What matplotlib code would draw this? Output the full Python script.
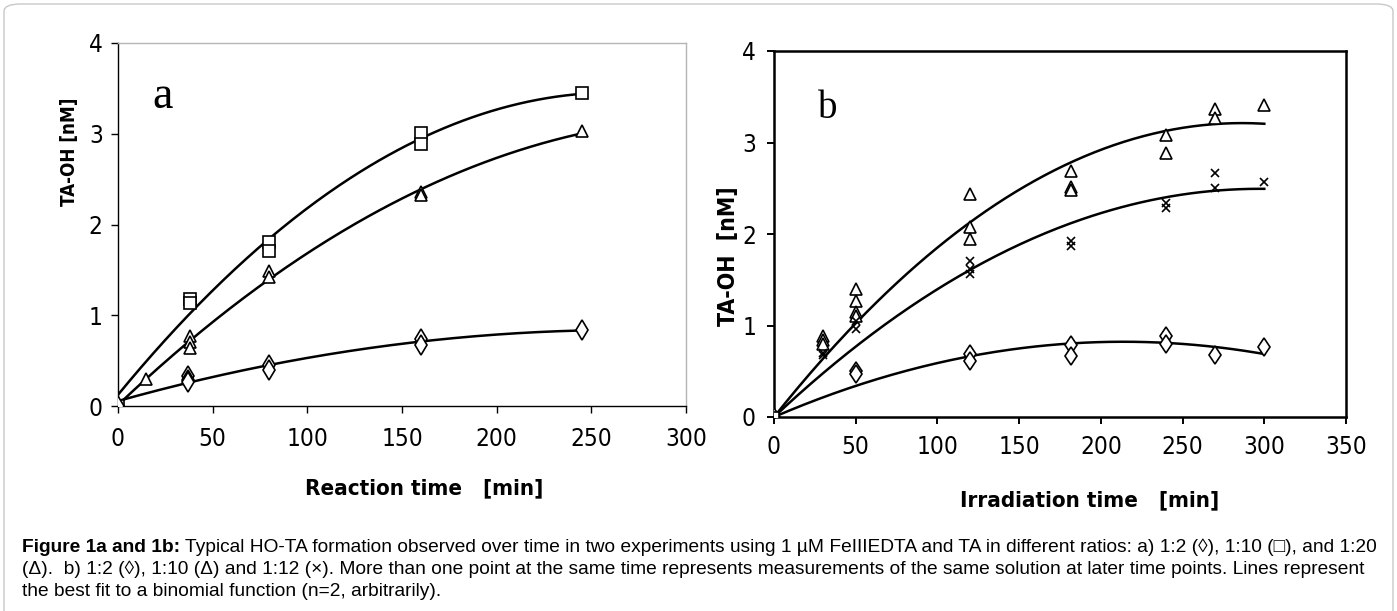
import numpy as np
import matplotlib
matplotlib.use("Agg")
import matplotlib.pyplot as plt
from matplotlib import font_manager
from matplotlib.patches import FancyBboxPatch, Rectangle

# ---- panel a: reaction time [min] vs TA-OH [nM]
a_sq_x = [0, 38, 38, 80, 80, 160, 160, 245]
a_sq_y = [0, 1.18, 1.14, 1.81, 1.71, 3.01, 2.89, 3.45]
a_tri_x = [0, 15, 38, 38, 38, 80, 80, 160, 160, 245]
a_tri_y = [0, 0.30, 0.77, 0.71, 0.64, 1.49, 1.42, 2.36, 2.33, 3.03]
a_dia_x = [0, 37, 37, 37, 80, 80, 160, 160, 245]
a_dia_y = [0, 0.33, 0.29, 0.26, 0.45, 0.40, 0.74, 0.67, 0.84]

# ---- panel b: irradiation time [min] vs TA-OH [nM]
b_tri_x = [0, 30, 30, 30, 50, 50, 50, 50, 120, 120, 120, 182, 182, 182, 240, 240, 270, 270, 300]
b_tri_y = [0, 0.88, 0.84, 0.80, 1.40, 1.27, 1.15, 1.10, 2.44, 2.08, 1.94, 2.69, 2.51, 2.48, 3.08, 2.88, 3.37, 3.27, 3.41]
b_x_x = [0, 30, 30, 50, 50, 120, 120, 120, 182, 182, 240, 240, 270, 270, 300]
b_x_y = [0, 0.70, 0.68, 1.05, 0.96, 1.70, 1.62, 1.56, 1.92, 1.87, 2.34, 2.28, 2.67, 2.50, 2.57]
b_dia_x = [0, 50, 50, 120, 120, 182, 182, 240, 240, 270, 300]
b_dia_y = [0, 0.50, 0.47, 0.69, 0.61, 0.79, 0.67, 0.88, 0.80, 0.68, 0.77]

caption_lines = [
    [("Figure 1a and 1b:", "bold"),
     (" Typical HO-TA formation observed over time in two experiments using 1 \u00b5M FeIIIEDTA and TA in different ratios: a) 1:2 (\u25ca), 1:10 (\u25a1), and 1:20", "normal")],
    [("(\u0394).  b) 1:2 (\u25ca), 1:10 (\u0394) and 1:12 (\u00d7). More than one point at the same time represents measurements of the same solution at later time points. Lines represent", "normal")],
    [("the best fit to a binomial function (n=2, arbitrarily).", "normal")],
]

W, H = 1397, 611

# pick a condensed sans if one is installed (the chart text is narrow)
entries = font_manager.fontManager.ttflist
names = {f.name for f in entries}
narrow, stretch = "Liberation Sans", "normal"
if "Liberation Sans Narrow" in names:
    narrow, stretch = "Liberation Sans Narrow", "normal"
else:
    for fam in ["DejaVu Sans", "Noto Sans", "Open Sans", "Roboto"]:
        if any(f.name == fam and "condensed" in str(f.stretch) for f in entries):
            narrow, stretch = fam, "condensed"
            break
    else:
        for f in entries:
            if "Condensed" in f.name or "Narrow" in f.name:
                narrow = f.name
                break
plt.rcParams["font.family"] = [narrow, "DejaVu Sans"]
plt.rcParams["font.stretch"] = stretch


def fx(px):
    return px / W


def fy(py):
    return 1 - py / H


def fit2(x, y, through_origin=False):
    x = np.asarray(x, float)
    y = np.asarray(y, float)
    xs = np.linspace(0, x.max(), 200)
    if through_origin:
        A = np.column_stack([x, x ** 2])
        c, *_ = np.linalg.lstsq(A, y, rcond=None)
        return xs, c[0] * xs + c[1] * xs ** 2
    c = np.polyfit(x, y, 2)
    return xs, np.polyval(c, xs)


fig = plt.figure(figsize=(W / 100, H / 100), dpi=100)

# outer rounded frame (bottom edge runs off the picture)
fig.add_artist(FancyBboxPatch((fx(4), fy(640)), fx(W - 8), fy(4) - fy(640),
                              boxstyle="round,pad=0,rounding_size=0.012", transform=fig.transFigure,
                              fc="none", ec="#c8c8c8", lw=1.0))

mk = dict(ls="none", mfc="white", mec="black", mew=1.2)

# ---------------- panel a
ax1 = fig.add_axes([fx(118), fy(406), fx(686 - 118), fy(43) - fy(406)])
for xs, ys, m, ms in [(a_sq_x, a_sq_y, "s", 8), (a_tri_x, a_tri_y, "^", 8), (a_dia_x, a_dia_y, "d", 10)]:
    lx, ly = fit2(xs, ys)
    ax1.plot(lx, ly, color="black", lw=1.8, zorder=2)
    ax1.plot(xs, ys, marker=m, ms=ms, zorder=3, **mk)
ax1.set_xlim(0, 300)
ax1.set_ylim(0, 4)
ax1.set_xticks(range(0, 301, 50))
ax1.set_yticks(range(0, 5))
for s in ["top", "right"]:
    ax1.spines[s].set_color("#b4b4b4")
    ax1.spines[s].set_linewidth(1.0)
for s in ["left", "bottom"]:
    ax1.spines[s].set_color("black")
    ax1.spines[s].set_linewidth(1.0)
ax1.tick_params(direction="out", length=5, width=1, labelsize=17.5)
ax1.tick_params(axis="x", pad=10)
ax1.tick_params(axis="y", pad=6)
ax1.text((163 - 118) / (686 - 118), (406 - 97) / (406 - 43), "a", transform=ax1.transAxes,
         family="Liberation Serif", fontsize=33, ha="center", va="center")

# ---------------- panel b
ax2 = fig.add_axes([fx(774), fy(417), fx(1346 - 774), fy(51) - fy(417)])
for xs, ys, m, ms in [(b_tri_x, b_tri_y, "^", 8), (b_x_x, b_x_y, "x", 5.5), (b_dia_x, b_dia_y, "d", 9.5)]:
    lx, ly = fit2(xs, ys, through_origin=True)
    ax2.plot(lx, ly, color="black", lw=1.8, zorder=2)
    ax2.plot(xs, ys, marker=m, ms=ms, zorder=3, **mk)
ax2.plot([0], [0], marker="s", ms=7, zorder=3, **mk)
ax2.set_xlim(0, 350)
ax2.set_ylim(0, 4)
ax2.set_xticks(range(0, 351, 50))
ax2.set_yticks(range(0, 5))
for s in ax2.spines.values():
    s.set_linewidth(1.8)
ax2.tick_params(direction="out", length=5, width=1.4, labelsize=17.5)
ax2.tick_params(axis="x", pad=8)
ax2.tick_params(axis="y", pad=8)
fig.add_artist(Rectangle((fx(800), fy(122)), fx(58), fy(84) - fy(122), transform=fig.transFigure,
                         fc="#f6f6f6", ec="none", zorder=0))
ax2.text((828 - 774) / (1346 - 774), (417 - 109) / (417 - 51), "b", transform=ax2.transAxes,
         family="Liberation Serif", fontsize=28, ha="center", va="center")

# axis titles
fig.text(fx(70), fy(152), "TA-OH [nM]", rotation=90, ha="center", va="center",
         family="DejaVu Sans", weight="bold", fontsize=13.5)
fig.text(fx(729), fy(256), "TA-OH  [nM]", rotation=90, ha="center", va="center",
         family="DejaVu Sans", weight="bold", fontsize=16.5)
fig.text(fx(424), fy(488), "Reaction time   [min]", ha="center", va="center",
         weight="bold", fontsize=16)
fig.text(fx(1090), fy(500), "Irradiation time   [min]", ha="center", va="center",
         weight="bold", fontsize=16)

# caption, scaled so that the first line spans the reference width
fig.canvas.draw()
renderer = fig.canvas.get_renderer()
cap_family = ["Liberation Sans", "DejaVu Sans"]


def caption_line(parts, y, size):
    x = fx(22)
    arts = []
    for txt, wt in parts:
        t = fig.text(x, fy(y), txt, ha="left", va="baseline", fontsize=size, weight=wt,
                     family=cap_family, fontstretch="normal")
        x += t.get_window_extent(renderer).width / W
        arts.append(t)
    return arts, x


probe, xend = caption_line(caption_lines[0], 552, 10)
scale = (fx(1379) - fx(22)) / (xend - fx(22))
for t in probe:
    t.remove()
cap_size = 10 * scale
for parts, y in zip(caption_lines, [552, 574, 596]):
    caption_line(parts, y, cap_size)

fig.savefig("out.png", dpi=100)
